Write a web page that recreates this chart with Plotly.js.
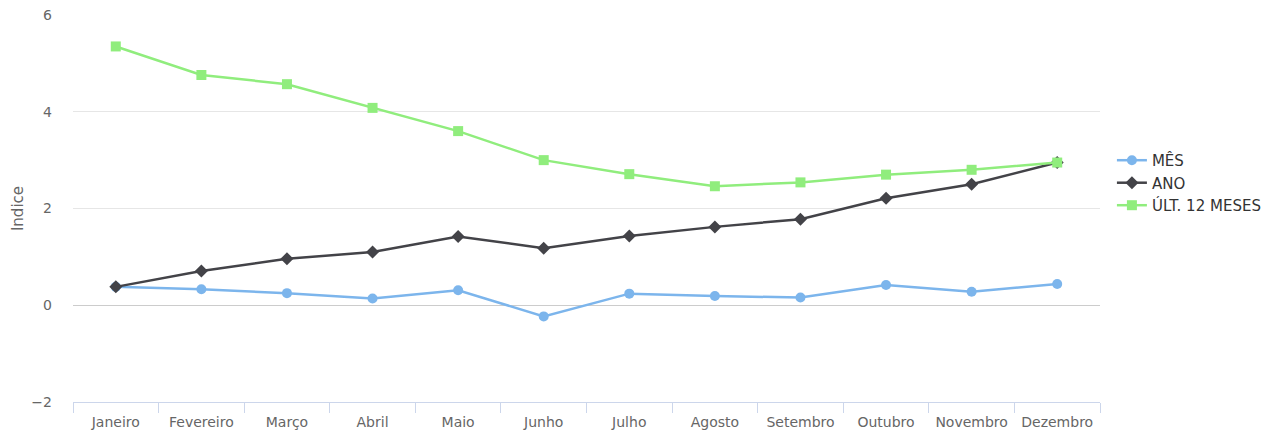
<!DOCTYPE html>
<html><head><meta charset="utf-8">
<script src="https://cdn.plot.ly/plotly-3.0.1.min.js"></script>
<style>html,body{margin:0;padding:0;background:#fff}#chart{width:1286px;height:435px}</style>
</head><body><div id="chart"></div>
<script>
const months = ["Janeiro","Fevereiro","Março","Abril","Maio","Junho","Julho","Agosto","Setembro","Outubro","Novembro","Dezembro"];
const mes = [0.38,0.33,0.25,0.14,0.31,-0.23,0.24,0.19,0.16,0.42,0.28,0.44];
const ano = [0.38,0.71,0.96,1.10,1.42,1.18,1.43,1.62,1.78,2.21,2.50,2.95];
const ult12 = [5.35,4.76,4.57,4.08,3.60,3.00,2.71,2.46,2.54,2.70,2.80,2.95];

const font = "'DejaVu Sans', 'Lucida Grande', sans-serif";
const traces = [
  {name:"MÊS", x:months, y:mes, type:"scatter", mode:"lines+markers",
   line:{color:"#7cb5ec", width:2.5}, marker:{symbol:"circle", size:10, color:"#7cb5ec"}},
  {name:"ANO", x:months, y:ano, type:"scatter", mode:"lines+markers",
   line:{color:"#434348", width:2.5}, marker:{symbol:"diamond", size:10, color:"#434348"}},
  {name:"ÚLT. 12 MESES", x:months, y:ult12, type:"scatter", mode:"lines+markers",
   line:{color:"#90ed7d", width:2.5}, marker:{symbol:"square", size:10, color:"#90ed7d"}}
];
const layout = {
  width:1286, height:435,
  margin:{l:73, r:186, t:15, b:33, autoexpand:false},
  paper_bgcolor:"#fff", plot_bgcolor:"#fff",
  font:{family:font, size:14, color:"#666"},
  showlegend:true,
  legend:{x:1.0116, y:0.566, xanchor:"left", yanchor:"middle",
          font:{family:font, size:15, color:"#333"}, tracegroupgap:0, itemwidth:30},
  xaxis:{type:"category", range:[-0.5,11.5], showgrid:false, showline:true, linecolor:"#ccd6eb", linewidth:1,
         ticks:"outside", tickson:"boundaries", ticklen:10, tickcolor:"#ccd6eb",
         ticklabelstandoff:7,
         tickfont:{family:font, size:14, color:"#666"}, zeroline:false, fixedrange:true},
  yaxis:{range:[-2,6], dtick:2, tick0:0, showgrid:true, gridcolor:"#e6e6e6", gridwidth:1,
         zeroline:true, zerolinecolor:"#cccccc", zerolinewidth:1, showline:false,
         ticks:"", ticklabelstandoff:20,
         tickfont:{family:font, size:14, color:"#666"},
         title:{text:"Indice", font:{family:font, size:15, color:"#666"}, standoff:4}}
};
Plotly.newPlot("chart", traces, layout, {displayModeBar:false, staticPlot:true});
</script></body></html>
